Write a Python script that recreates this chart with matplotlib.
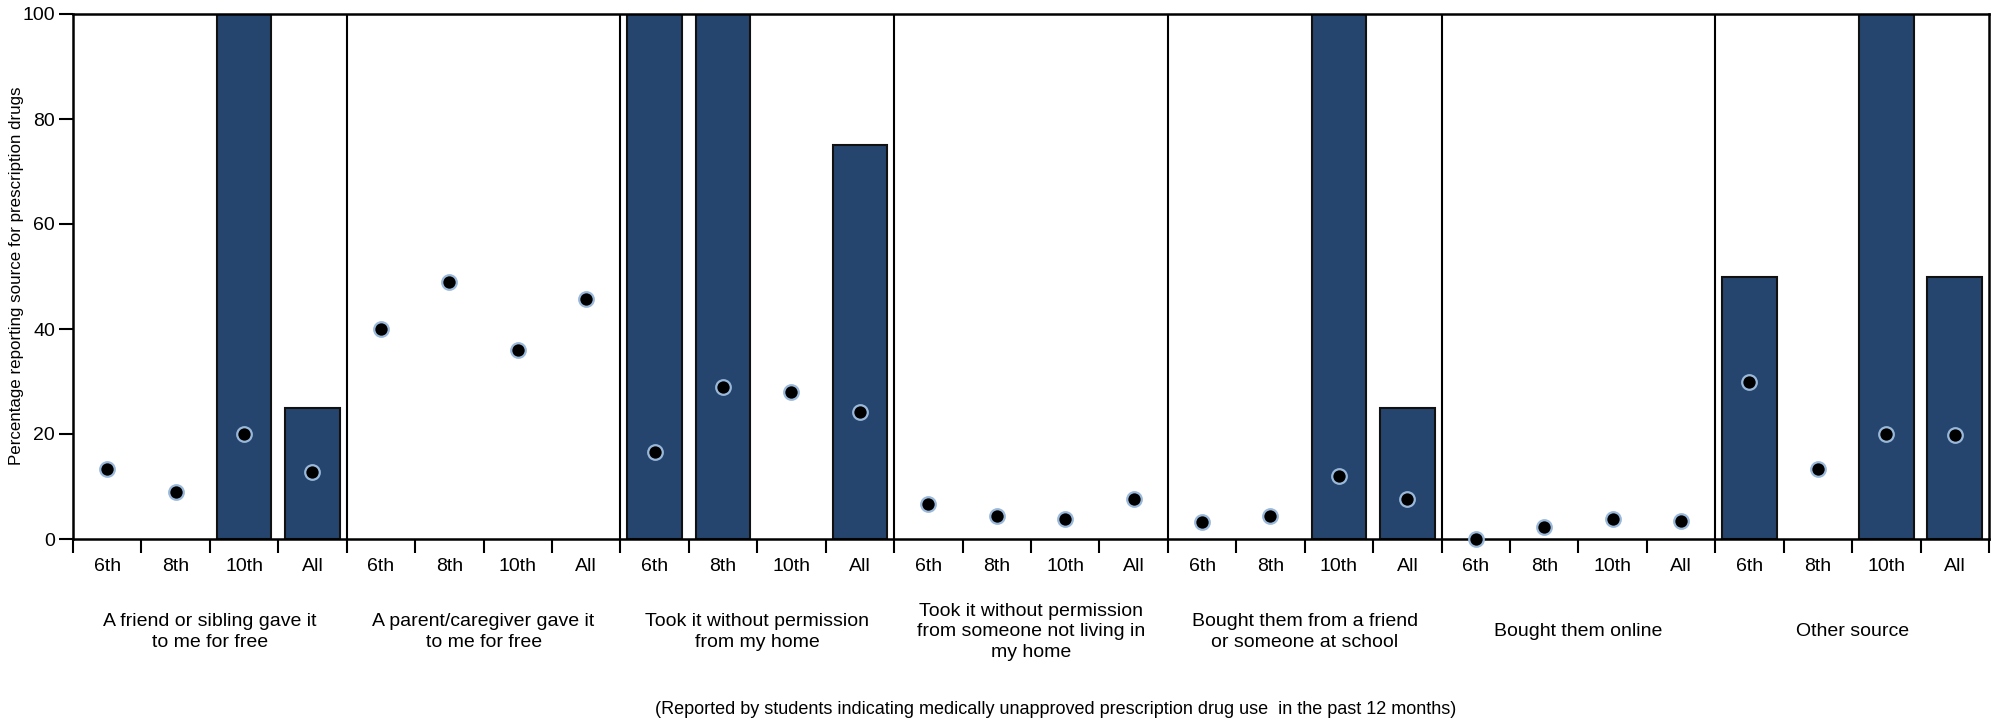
import matplotlib
matplotlib.use("Agg")
import matplotlib.pyplot as plt
from matplotlib import font_manager
import numpy as np

groups = [
    "A friend or sibling gave it\nto me for free",
    "A parent/caregiver gave it\nto me for free",
    "Took it without permission\nfrom my home",
    "Took it without permission\nfrom someone not living in\nmy home",
    "Bought them from a friend\nor someone at school",
    "Bought them online",
    "Other source",
]
grades = ["6th", "8th", "10th", "All"]

# bar values (None = no bar)
bars = [
    [None, None, 100, 25],
    [None, None, None, None],
    [100, 100, None, 75],
    [None, None, None, None],
    [None, None, 100, 25],
    [None, None, None, None],
    [50, None, 100, 50],
]
# dot values
dots = [
    [13.3, 9.0, 20.0, 12.8],
    [40.0, 48.9, 36.0, 45.7],
    [16.6, 29.0, 28.0, 24.1],
    [6.6, 4.4, 3.9, 7.7],
    [3.2, 4.4, 12.0, 7.6],
    [0.0, 2.2, 3.9, 3.4],
    [30.0, 13.3, 20.0, 19.8],
]

names = {f.name for f in font_manager.fontManager.ttflist}
fam = ["Liberation Sans Narrow", "DejaVu Sans"] if "Liberation Sans Narrow" in names else ["Liberation Sans", "DejaVu Sans"]
plt.rcParams['font.family'] = fam

W, H = 1999, 726
fig = plt.figure(figsize=(W / 100, H / 100), dpi=100)
ax = fig.add_axes([73 / W, 1 - 539 / H, (1989 - 73) / W, (539 - 14) / H])

bar_color = "#26456e"
ng = len(groups)
ns = len(grades)
for g in range(ng):
    for i in range(ns):
        x = g * ns + i
        if bars[g][i] is not None:
            ax.bar(x, bars[g][i], width=0.8, color=bar_color, edgecolor="#111111",
                   linewidth=1.5, zorder=2)
xs = [g * ns + i for g in range(ng) for i in range(ns)]
ys = [dots[g][i] for g in range(ng) for i in range(ns)]
ax.scatter(xs, ys, s=110, color="black", edgecolors="#9ab8da", linewidths=1.6,
           zorder=5, clip_on=False)

for g in range(1, ng):
    ax.axvline(g * ns - 0.5, color="black", linewidth=1.5, zorder=3)

ax.set_xlim(-0.5, ng * ns - 0.5)
ax.set_ylim(0, 100)
ax.set_yticks([0, 20, 40, 60, 80, 100])
ax.tick_params(axis="y", direction="out", length=10, width=1.5, labelsize=14, pad=3)

ax.set_xticks(xs)
ax.set_xticklabels([grades[i] for g in range(ng) for i in range(ns)], fontsize=14)
ax.tick_params(axis="x", which="major", length=0, pad=14)
ax.set_xticks(np.arange(-0.5, ng * ns, 1.0), minor=True)
ax.tick_params(axis="x", which="minor", direction="out", length=10, width=1.5)

for sp in ax.spines.values():
    sp.set_linewidth(1.8)
    sp.set_color("black")

trans = matplotlib.transforms.blended_transform_factory(ax.transData, ax.transAxes)
for g in range(ng):
    ax.text(g * ns + 1.5, -0.177, groups[g], transform=trans, ha="center", va="center",
            fontsize=14, linespacing=1.3)

fig.text(17 / W, 1 - 276 / H, "Percentage reporting source for prescription drugs",
         rotation=90, ha="center", va="center", fontsize=12.2)

fig.text(1056 / W, 1 - 710 / H,
         "(Reported by students indicating medically unapproved prescription drug use  in the past 12 months)",
         ha="center", va="center", fontsize=13)

fig.savefig("out.png", dpi=100, facecolor="white")
